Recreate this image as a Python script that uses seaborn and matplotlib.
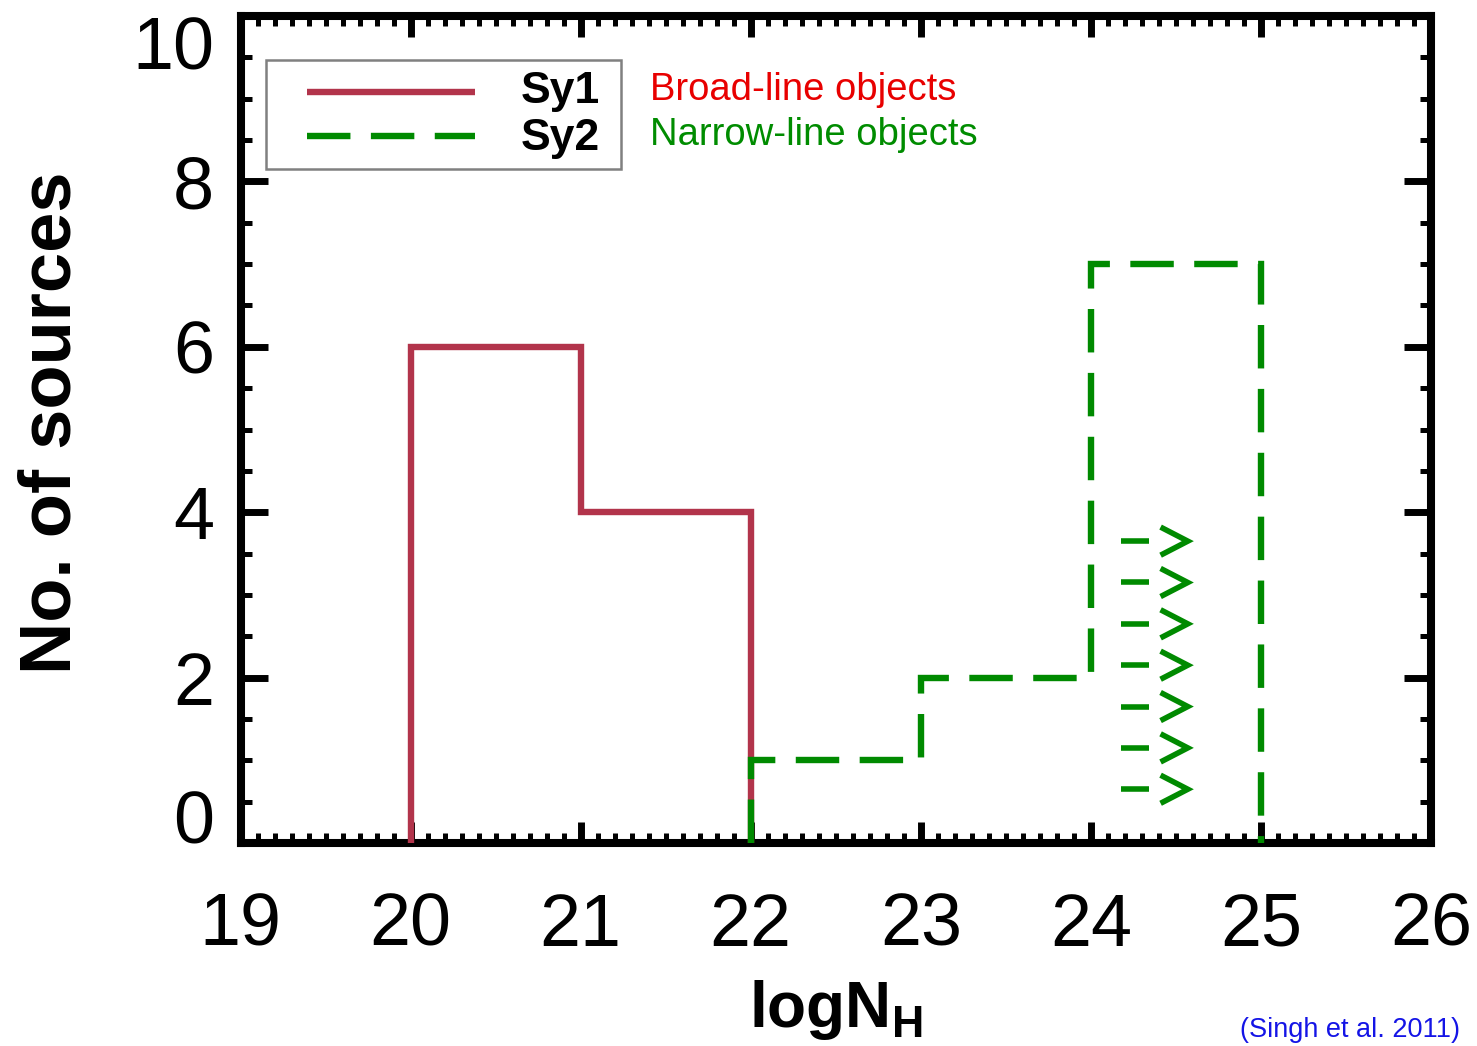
import numpy as np
import pandas as pd
import matplotlib
matplotlib.use("Agg")
import matplotlib.pyplot as plt
from matplotlib.ticker import MultipleLocator
from matplotlib.patches import Rectangle
import seaborn as sns

# Column-density histograms (counts per 1-dex bin of log N_H)
sy1_edges = [20, 21, 22]
sy1_counts = [6, 4]
sy2_edges = [22, 23, 24, 25]
sy2_counts = [1, 2, 7]
# Lower-limit markers for the Compton-thick Sy2 sources (one per source)
limit_y = [3.65, 3.15, 2.65, 2.15, 1.65, 1.15, 0.65]
limit_x = 24.18

xticks = [19, 20, 21, 22, 23, 24, 25, 26]
yticks = [0, 2, 4, 6, 8, 10]

RED = "#b2344b"
GREEN = "#008a00"
LW = 4.6
DASH = (0, (6.8, 3.2))

sns.set_style("white")
plt.rcParams["font.family"] = ["Liberation Sans", "DejaVu Sans"]
plt.rcParams["mathtext.fontset"] = "custom"
plt.rcParams["mathtext.rm"] = "Liberation Sans"
plt.rcParams["mathtext.bf"] = "Liberation Sans:bold"
plt.rcParams["mathtext.default"] = "bf"
for key in ("text.color", "axes.labelcolor", "xtick.color", "ytick.color",
            "xtick.labelcolor", "ytick.labelcolor"):
    plt.rcParams[key] = "black"


def outline(edges, counts):
    """Closed step outline of a histogram, dropping to zero at both ends."""
    e = np.asarray(edges, float)
    c = np.asarray(counts, float)
    xs = np.concatenate([[e[0]], np.repeat(e, 2)[1:-1], [e[-1]]])
    ys = np.concatenate([[0.0], np.repeat(c, 2), [0.0]])
    return pd.DataFrame({"x": xs, "y": ys})


fig = plt.figure(figsize=(14.77, 10.46), dpi=100)
W, H = 1477, 1046
x0, x1, ytop, ybot = 240.5, 1431, 16, 843
ax = fig.add_axes([x0 / W, 1 - ybot / H, (x1 - x0) / W, (ybot - ytop) / H])

sy1 = outline(sy1_edges, sy1_counts)
sy2 = outline(sy2_edges, sy2_counts)
sns.lineplot(data=sy1, x="x", y="y", sort=False, estimator=None, ax=ax,
             color=RED, lw=LW, solid_joinstyle="miter", solid_capstyle="butt",
             zorder=3)
sns.lineplot(data=sy2, x="x", y="y", sort=False, estimator=None, ax=ax,
             color=GREEN, lw=LW, linestyle=DASH, dash_capstyle="butt",
             dash_joinstyle="miter", zorder=4)

# "->" lower-limit arrows
for yv in limit_y:
    ax.plot([limit_x, limit_x + 0.16], [yv, yv], color=GREEN, lw=4.0,
            solid_capstyle="butt", zorder=4)
    ax.plot([limit_x + 0.23, limit_x + 0.39, limit_x + 0.23],
            [yv + 0.17, yv, yv - 0.17], color=GREEN, lw=4.0,
            solid_joinstyle="miter", solid_capstyle="butt", zorder=4)

ax.set_xlim(19, 26)
ax.set_ylim(0, 10)
ax.set_xticks(xticks)
ax.set_yticks(yticks)
ax.xaxis.set_minor_locator(MultipleLocator(0.1))
ax.yaxis.set_minor_locator(MultipleLocator(0.5))
ax.tick_params(which="both", direction="in", top=True, right=True,
               bottom=True, left=True, color="black")
ax.tick_params(axis="x", which="major", length=15, width=5, pad=35,
               labelsize=53, labelcolor="black")
ax.tick_params(axis="x", which="minor", length=7, width=3.6)
ax.tick_params(axis="y", which="major", length=19.5, width=5, pad=19,
               labelsize=53, labelcolor="black")
ax.tick_params(axis="y", which="minor", length=8, width=3.6)
for s in ax.spines.values():
    s.set_linewidth(5.8)
    s.set_color("black")
    s.set_visible(True)

yt = ax.yaxis.get_major_ticks()
yt[0].label1.set_va("baseline")
yt[-1].label1.set_va("top")

ax.set_ylabel("No. of sources", fontsize=52, fontweight="bold",
              color="black")
ax.yaxis.set_label_coords(-0.1306, 0.508)
ax.set_xlabel(r"$\mathbf{logN_H}$", fontsize=46, color="black")
ax.xaxis.set_label_coords(0.5, -0.163)
ax.xaxis.label.set_va("top")


# Legend box drawn in axes fraction
def fx(px):
    return (px - x0) / (x1 - x0)


def fy(py):
    return (ybot - py) / (ybot - ytop)


ax.add_patch(Rectangle((fx(266), fy(169)), fx(621) - fx(266), fy(60) - fy(169),
                       transform=ax.transAxes, fill=False, edgecolor="#808080",
                       lw=1.8, zorder=5))
ax.plot([fx(307), fx(475)], [fy(92), fy(92)], transform=ax.transAxes,
        color=RED, lw=LW, solid_capstyle="butt", zorder=6)
ax.plot([fx(307), fx(475)], [fy(136), fy(136)], transform=ax.transAxes,
        color=GREEN, lw=LW, linestyle=DASH, dash_capstyle="butt", zorder=6)
ax.text(fx(600), fy(103), "Sy1", transform=ax.transAxes, ha="right",
        va="baseline", fontsize=32, fontweight="bold", color="black", zorder=6)
ax.text(fx(600), fy(150), "Sy2", transform=ax.transAxes, ha="right",
        va="baseline", fontsize=32, fontweight="bold", color="black", zorder=6)

ax.text(fx(650), fy(90), "Broad-line objects", transform=ax.transAxes,
        ha="left", va="center", fontsize=27.5, color="#e80000")
ax.text(fx(650), fy(135), "Narrow-line objects", transform=ax.transAxes,
        ha="left", va="center", fontsize=27.5, color="#008c00")

fig.text(1240 / W, 1 - 1037 / H, "(Singh et al. 2011)", ha="left",
         va="baseline", fontsize=19.5, color="#1414e6")

fig.savefig("out.png", dpi=100)
